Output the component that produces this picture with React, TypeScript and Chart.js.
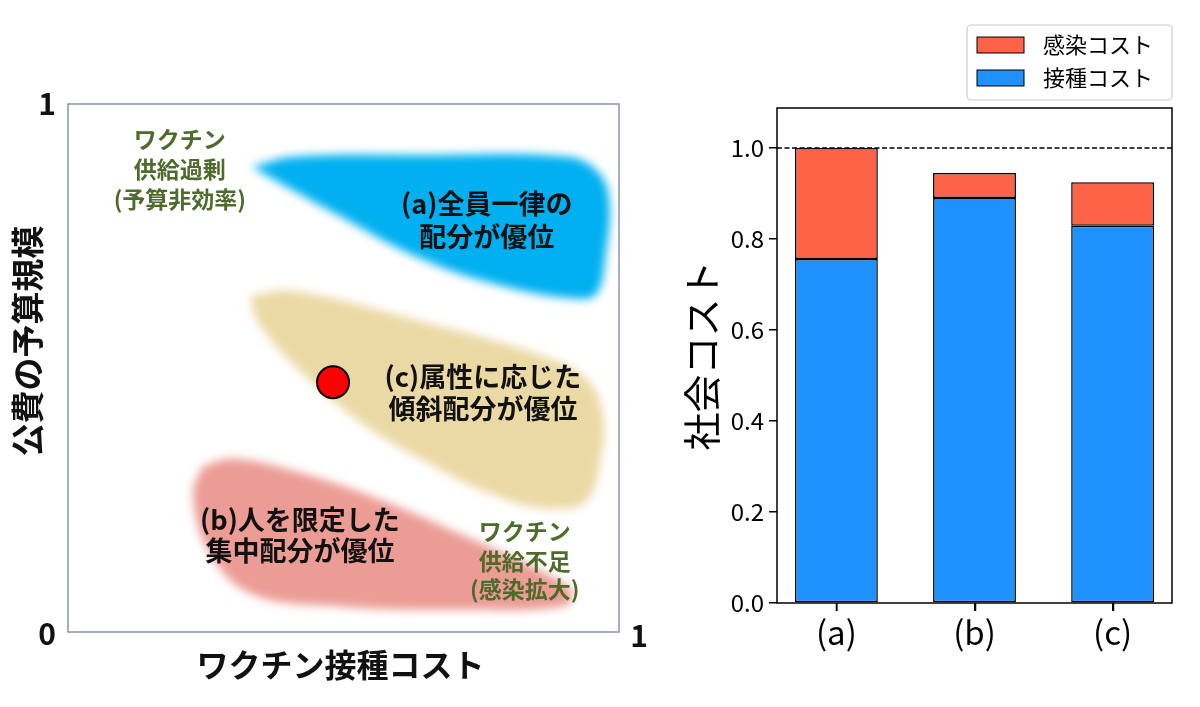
import React, { useEffect, useRef } from 'react';
import { Chart, registerables } from 'chart.js';

Chart.register(...registerables);

const FONT = '"Noto Sans CJK JP", "Noto Sans", sans-serif';

// ---------------- Left diagram data (unit square) ----------------
const diagramXTitle = 'ワクチン接種コスト';
const diagramYTitle = '公費の予算規模';

const blobUniform: [number, number][] = [
  [0.334, 0.881], [0.41, 0.9], [0.639, 0.903], [0.906, 0.9], [0.96, 0.873], [0.982, 0.82],
  [0.975, 0.708], [0.96, 0.642], [0.929, 0.631], [0.791, 0.655], [0.639, 0.708], [0.486, 0.792],
  [0.372, 0.858], [0.334, 0.881],
];
const blobTargeted: [number, number][] = [
  [0.334, 0.638], [0.41, 0.646], [0.639, 0.589], [0.868, 0.521], [0.944, 0.477], [0.971, 0.409],
  [0.967, 0.328], [0.944, 0.252], [0.898, 0.233], [0.791, 0.252], [0.639, 0.328], [0.525, 0.402],
  [0.41, 0.506], [0.348, 0.581], [0.334, 0.619], [0.334, 0.638],
];
const blobConcentrated: [number, number][] = [
  [0.243, 0.3125], [0.296, 0.328], [0.41, 0.305], [0.563, 0.252], [0.715, 0.184], [0.868, 0.11],
  [0.915, 0.076], [0.9, 0.049], [0.715, 0.042], [0.486, 0.049], [0.334, 0.072], [0.258, 0.148],
  [0.227, 0.259], [0.243, 0.3125],
];
const currentPolicy: [number, number][] = [[0.481, 0.473]];

const diagramLabels = [
  { text: 'ワクチン', x: 0.203, y: 0.934, kind: 'note' },
  { text: '供給過剰', x: 0.203, y: 0.877, kind: 'note' },
  { text: '(予算非効率)', x: 0.203, y: 0.82, kind: 'note' },
  { text: '(a)全員一律の', x: 0.76, y: 0.811, kind: 'region' },
  { text: '配分が優位', x: 0.76, y: 0.748, kind: 'region' },
  { text: '(c)属性に応じた', x: 0.753, y: 0.483, kind: 'region' },
  { text: '傾斜配分が優位', x: 0.753, y: 0.422, kind: 'region' },
  { text: '(b)人を限定した', x: 0.421, y: 0.212, kind: 'region' },
  { text: '集中配分が優位', x: 0.421, y: 0.153, kind: 'region' },
  { text: 'ワクチン', x: 0.829, y: 0.191, kind: 'note' },
  { text: '供給不足', x: 0.829, y: 0.134, kind: 'note' },
  { text: '(感染拡大)', x: 0.829, y: 0.08, kind: 'note' },
];

// ---------------- Right bar chart data ----------------
const categories = ['(a)', '(b)', '(c)'];
const vaccinationCost = [0.756, 0.89, 0.829];
const infectionCost = [0.244, 0.055, 0.096];
const seriesNames = ['接種コスト', '感染コスト'];
const yTicks = [0, 0.2, 0.4, 0.6, 0.8, 1.0];
const referenceLevel = 1.0;
const yTitle = '社会コスト';

const X_MIN = -0.43;
const X_MAX = 2.43;
const Y_MAX = 1.088;

const BLUE_BLOB = '#00b0f0';
const TAN_BLOB = '#ebd9a5';
const PINK_BLOB = '#eb9c94';
const NOTE_GREEN = '#4e6b2b';

const toPts = (arr: [number, number][]) => arr.map(([x, y]) => ({ x, y }));

const blobDataset = (pts: [number, number][], color: string) => ({
  data: toPts(pts),
  showLine: true,
  fill: 'shape',
  backgroundColor: color,
  borderColor: 'rgba(0,0,0,0)',
  borderWidth: 0,
  pointRadius: 0,
  tension: 0.4,
});

const diagramPlugin = {
  id: 'diagramDecor',
  beforeRender(chart: any) {
    chart.ctx.filter = 'blur(5px)';
  },
  beforeDraw(chart: any) {
    chart.ctx.filter = 'none';
  },
  afterDraw(chart: any) {
    const { ctx, chartArea: ca, scales } = chart;
    ctx.save();
    ctx.filter = 'none';
    ctx.strokeStyle = '#8994b3';
    ctx.lineWidth = 1.5;
    ctx.strokeRect(ca.left, ca.top, ca.right - ca.left, ca.bottom - ca.top);

    ctx.textAlign = 'center';
    ctx.textBaseline = 'middle';
    for (const l of diagramLabels) {
      const px = scales.x.getPixelForValue(l.x);
      const py = scales.y.getPixelForValue(l.y);
      if (l.kind === 'note') {
        ctx.fillStyle = NOTE_GREEN;
        ctx.font = `bold 23px ${FONT}`;
      } else {
        ctx.fillStyle = '#111';
        ctx.font = `bold 27px ${FONT}`;
      }
      ctx.fillText(l.text, px, py);
    }

    ctx.fillStyle = '#111';
    ctx.font = `bold 30px ${FONT}`;
    ctx.fillText('1', ca.left - 21, ca.top);
    ctx.fillText('0', ca.left - 21, ca.bottom + 2);
    ctx.fillText('1', ca.right + 20, ca.bottom + 4);

    ctx.font = `bold 32px ${FONT}`;
    ctx.fillText(diagramXTitle, (ca.left + ca.right) / 2 - 3, ca.bottom + 33);

    ctx.save();
    ctx.translate(ca.left - 41, (ca.top + ca.bottom) / 2 - 27);
    ctx.rotate(-Math.PI / 2);
    ctx.font = `bold 33px ${FONT}`;
    ctx.fillText(diagramYTitle, 0, 0);
    ctx.restore();
    ctx.restore();
  },
};

const framePlugin = {
  id: 'frameAndLegend',
  afterDraw(chart: any) {
    const { ctx, chartArea: ca, scales } = chart;
    ctx.save();
    ctx.strokeStyle = '#000';
    ctx.lineWidth = 1.5;
    ctx.strokeRect(ca.left, ca.top, ca.right - ca.left, ca.bottom - ca.top);

    // x tick marks at category positions
    ctx.beginPath();
    scales.x.ticks.forEach((_: any, i: number) => {
      const px = Math.round(scales.x.getPixelForTick(i)) + 0.5;
      ctx.moveTo(px, ca.bottom);
      ctx.lineTo(px, ca.bottom + 8);
    });
    ctx.stroke();

    // legend
    const right = ca.right;
    const boxL = right - 205;
    const boxT = 25;
    const boxW = 205;
    const boxH = 75;
    ctx.fillStyle = '#fff';
    ctx.strokeStyle = '#cccccc';
    ctx.lineWidth = 1.2;
    ctx.beginPath();
    (ctx as any).roundRect(boxL, boxT, boxW, boxH, 4);
    ctx.fill();
    ctx.stroke();

    const bars = chart.data.datasets.filter((d: any) => d.type !== 'line').slice().reverse();
    bars.forEach((d: any, i: number) => {
      const y = boxT + 12 + i * 33;
      ctx.fillStyle = d.backgroundColor;
      ctx.fillRect(boxL + 10, y, 47, 16);
      ctx.strokeStyle = '#000';
      ctx.lineWidth = 1;
      ctx.strokeRect(boxL + 10, y, 47, 16);
      ctx.fillStyle = '#000';
      ctx.font = `22px ${FONT}`;
      ctx.textAlign = 'left';
      ctx.textBaseline = 'middle';
      ctx.fillText(d.label, boxL + 76, y + 8);
    });
    ctx.restore();
  },
};

export default function App() {
  const leftRef = useRef<HTMLCanvasElement>(null);
  const rightRef = useRef<HTMLCanvasElement>(null);

  useEffect(() => {
    const left = new Chart(leftRef.current as HTMLCanvasElement, {
      type: 'scatter',
      data: {
        datasets: [
          blobDataset(blobUniform, BLUE_BLOB),
          blobDataset(blobTargeted, TAN_BLOB),
          blobDataset(blobConcentrated, PINK_BLOB),
          {
            data: toPts(currentPolicy),
            showLine: false,
            pointRadius: 16,
            pointBackgroundColor: '#ff0000',
            pointBorderColor: '#000',
            pointBorderWidth: 2,
            order: -1,
          },
        ] as any,
      },
      options: {
        animation: false,
        responsive: false,
        events: [],
        layout: { padding: { left: 68, top: 104, right: 41, bottom: 75 } },
        scales: {
          x: { type: 'linear', min: 0, max: 1, display: false },
          y: { type: 'linear', min: 0, max: 1, display: false },
        },
        plugins: {
          legend: { display: false },
          tooltip: { enabled: false },
          filler: { drawTime: 'beforeDraw' } as any,
        },
      },
      plugins: [diagramPlugin],
    });

    const right = new Chart(rightRef.current as HTMLCanvasElement, {
      type: 'bar',
      data: {
        datasets: [
          {
            type: 'line',
            label: 'ref',
            data: [
              { x: X_MIN, y: referenceLevel },
              { x: X_MAX, y: referenceLevel },
            ],
            borderColor: '#000',
            borderWidth: 1.5,
            borderDash: [5, 2.5],
            pointRadius: 0,
            order: 0,
          },
          {
            label: seriesNames[0],
            data: categories.map((_, i) => ({ x: i, y: vaccinationCost[i] })),
            backgroundColor: '#1e90ff',
            borderColor: '#000',
            borderWidth: 1.5,
            borderSkipped: false,
            barPercentage: 0.6,
            categoryPercentage: 1,
            order: 1,
          },
          {
            label: seriesNames[1],
            data: categories.map((_, i) => ({ x: i, y: infectionCost[i] })),
            backgroundColor: '#ff6347',
            borderColor: '#000',
            borderWidth: 1.5,
            borderSkipped: false,
            barPercentage: 0.6,
            categoryPercentage: 1,
            order: 1,
          },
        ] as any,
      },
      options: {
        animation: false,
        responsive: false,
        events: [],
        layout: { padding: { left: 0, right: 28, top: 108, bottom: 0 } },
        scales: {
          x: {
            type: 'linear',
            min: X_MIN,
            max: X_MAX,
            offset: false,
            stacked: true,
            afterBuildTicks: (s: any) => {
              s.ticks = categories.map((_, i) => ({ value: i }));
            },
            afterFit: (s: any) => {
              s.height = 104;
            },
            grid: { offset: false, drawOnChartArea: false, drawTicks: true, tickLength: 8, color: '#000', lineWidth: 1.5 },
            border: { display: false },
            ticks: {
              callback: (v: any) => categories[v] ?? '',
              font: { family: FONT, size: 33 },
              color: '#000',
              padding: 2,
              maxRotation: 0,
              autoSkip: false,
            },
          },
          y: {
            type: 'linear',
            min: 0,
            max: Y_MAX,
            stacked: true,
            afterBuildTicks: (s: any) => {
              s.ticks = yTicks.map((v) => ({ value: v }));
            },
            afterFit: (s: any) => {
              s.width = 117;
            },
            grid: { drawOnChartArea: false, drawTicks: true, tickLength: 8, color: '#000', lineWidth: 1.5 },
            border: { display: false },
            ticks: {
              callback: (v: any) => Number(v).toFixed(1),
              font: { family: FONT, size: 24 },
              color: '#000',
              padding: 5,
            },
            title: {
              display: true,
              text: yTitle,
              font: { family: FONT, size: 38 },
              color: '#000',
              padding: { top: 19, bottom: 0 },
            },
          },
        },
        plugins: { legend: { display: false }, tooltip: { enabled: false } },
      },
      plugins: [framePlugin],
    });

    return () => {
      left.destroy();
      right.destroy();
    };
  }, []);

  return (
    <div style={{ position: 'absolute', left: 0, top: 0, width: 1200, height: 707, background: '#fff', overflow: 'hidden' }}>
      <canvas
        ref={leftRef}
        width={660}
        height={707}
        style={{ position: 'absolute', left: 0, top: 0, width: 660, height: 707 }}
      />
      <canvas
        ref={rightRef}
        width={540}
        height={707}
        style={{ position: 'absolute', left: 660, top: 0, width: 540, height: 707 }}
      />
    </div>
  );
}
